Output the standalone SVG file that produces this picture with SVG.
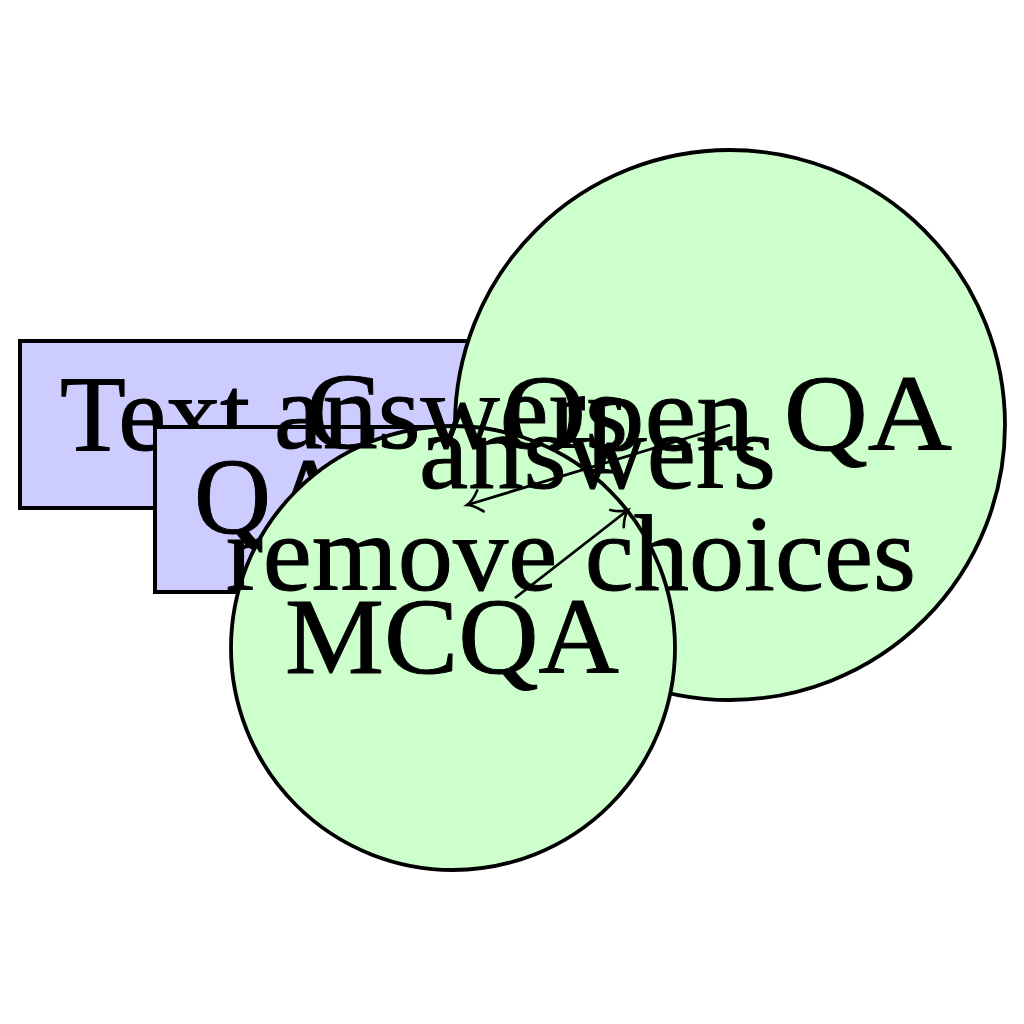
<svg xmlns="http://www.w3.org/2000/svg" width="1024" height="1024" viewBox="0 0 1024 1024">
<style>
.box{fill:#ccccff;stroke:#000;stroke-width:4}
.circ{fill:#ccffcc;stroke:#000;stroke-width:3.8}
.t{font-family:"Liberation Serif","Times New Roman",serif;font-size:108px;fill:#000;stroke:#000;stroke-width:1}
.e{fill:none;stroke:#000;stroke-width:2.8}
</style>
<defs>
<marker id="arr" markerUnits="userSpaceOnUse" viewBox="-18 -14 22 28" refX="0" refY="0" markerWidth="22" markerHeight="28" orient="auto">
<path d="M-14,-11 C-9,-5 -3,-1 0,0 C-3,1 -9,5 -14,11" fill="none" stroke="#000" stroke-width="2.6" stroke-linecap="round"/>
</marker>
</defs>
<rect width="1024" height="1024" fill="#fff"/>
<g id="text-class">
<rect class="box" x="20" y="341" width="580" height="167"/>
<text class="t" x="60" y="450" textLength="190" lengthAdjust="spacingAndGlyphs">Text</text>
</g>
<g id="qa">
<rect class="box" x="155" y="427" width="312" height="165"/>
<text class="t" x="306" y="448" textLength="74" lengthAdjust="spacingAndGlyphs">C</text>
<text class="t" x="194" y="533" textLength="154" lengthAdjust="spacingAndGlyphs">QA</text>
</g>
<g id="open-qa">
<circle class="circ" cx="730" cy="425" r="275"/>
<text class="t" x="502" y="450" textLength="450" lengthAdjust="spacingAndGlyphs">Open QA</text>
</g>
<g id="mcqa">
<circle class="circ" cx="453" cy="648" r="222"/>
<text class="t" x="285" y="673" textLength="334" lengthAdjust="spacingAndGlyphs">MCQA</text>
</g>
<g id="connectors">
<line class="e" x1="730" y1="425" x2="467" y2="505" marker-end="url(#arr)"/>
<line class="e" x1="515" y1="598" x2="628" y2="510" marker-end="url(#arr)"/>
<text class="t" x="274" y="448" textLength="354" lengthAdjust="spacingAndGlyphs">answers</text>
<text class="t" x="419" y="488" textLength="357" lengthAdjust="spacingAndGlyphs">answers</text>
<text class="t" x="226" y="590" textLength="690" lengthAdjust="spacingAndGlyphs">remove choices</text>
</g>
</svg>
